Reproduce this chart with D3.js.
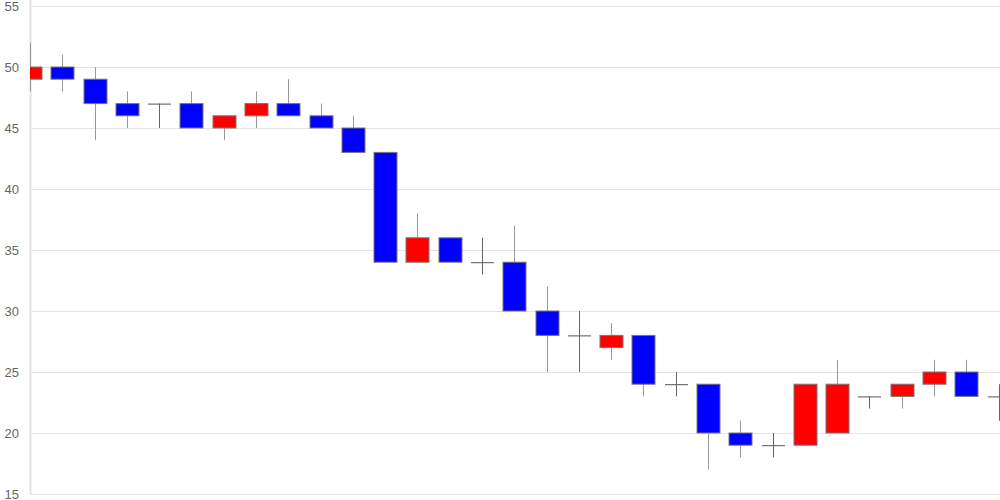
<!DOCTYPE html>
<html><head><meta charset="utf-8">
<script src="https://cdn.jsdelivr.net/npm/d3@7"></script>
<style>body{margin:0;background:#fff}svg{display:block}</style>
</head><body><svg id="c" width="1000" height="500"></svg>
<script>
const days = d3.range(31).map(i => "D" + (i + 1));
const openV  = [49,50,49,47,47,47,45,46,47,46,45,43,34,36,34,34,30,28,27,28,24,24,20,19,19,20,23,23,24,25,23];
const highV  = [52,51,50,48,47,48,46,48,49,47,46,43,38,36,36,37,32,30,29,28,25,24,21,20,24,26,23,24,26,26,24];
const lowV   = [48,48,44,45,45,45,44,45,46,45,43,34,34,34,33,30,25,25,26,23,23,17,18,18,19,20,22,22,23,23,21];
const closeV = [50,49,47,46,47,45,46,47,46,45,43,34,36,34,34,30,28,28,28,24,24,20,19,19,24,24,23,24,25,23,23];
const yTicks = [15,20,25,30,35,40,45,50,55];

const svg = d3.select("#c");
const L = 30, R = 1000, T = 6, B = 494;
const x = d3.scalePoint().domain(days).range([L, R - 1.5]);
const y = d3.scaleLinear().domain([15, 55]).range([B, T]);
const bw = 23;

svg.append("defs").append("clipPath").attr("id", "clip")
  .append("rect").attr("x", L).attr("y", 0).attr("width", R - L).attr("height", 500);

const yAxis = d3.axisLeft(y).tickValues(yTicks).tickSize(0).tickPadding(11);
const ga = svg.append("g").attr("transform", `translate(${L},0)`).call(yAxis);
ga.select(".domain").remove();
ga.selectAll("text").attr("fill", "#666").style("font-family", "Arial, 'Liberation Sans', sans-serif").style("font-size", "13px");

svg.append("g").selectAll("line").data(yTicks).join("line")
  .attr("x1", L).attr("x2", R).attr("y1", d => y(d) + 0.5).attr("y2", d => y(d) + 0.5)
  .attr("stroke", "#e3e3e3").attr("stroke-width", 1);
svg.append("line").attr("x1", L + 0.5).attr("x2", L + 0.5).attr("y1", 0).attr("y2", B)
  .attr("stroke", "#e3e3e3").attr("stroke-width", 2);

const data = days.map((d, i) => ({d, o: openV[i], h: highV[i], l: lowV[i], c: closeV[i]}));
const g = svg.append("g").attr("clip-path", "url(#clip)");
const cx = d => Math.round(x(d.d)) + 0.5;

g.selectAll("line.wick").data(data).join("line").attr("class", "wick")
  .attr("x1", cx).attr("x2", cx)
  .attr("y1", d => y(d.h)).attr("y2", d => y(d.l))
  .attr("stroke", d => d.o === d.c ? "#666" : "#999").attr("stroke-width", 1);

g.selectAll("rect.body").data(data.filter(d => d.o !== d.c)).join("rect").attr("class", "body")
  .attr("x", d => cx(d) - bw / 2).attr("width", bw)
  .attr("y", d => y(Math.max(d.o, d.c)))
  .attr("height", d => y(Math.min(d.o, d.c)) - y(Math.max(d.o, d.c)))
  .attr("fill", d => d.c > d.o ? "#ff0000" : "#0000ff")
  .attr("stroke", "#777").attr("stroke-width", 1);

g.selectAll("line.doji").data(data.filter(d => d.o === d.c)).join("line").attr("class", "doji")
  .attr("x1", d => cx(d) - bw / 2).attr("x2", d => cx(d) + bw / 2)
  .attr("y1", d => y(d.o) + 0.5).attr("y2", d => y(d.o) + 0.5)
  .attr("stroke", "#555").attr("stroke-width", 1);
</script></body></html>
